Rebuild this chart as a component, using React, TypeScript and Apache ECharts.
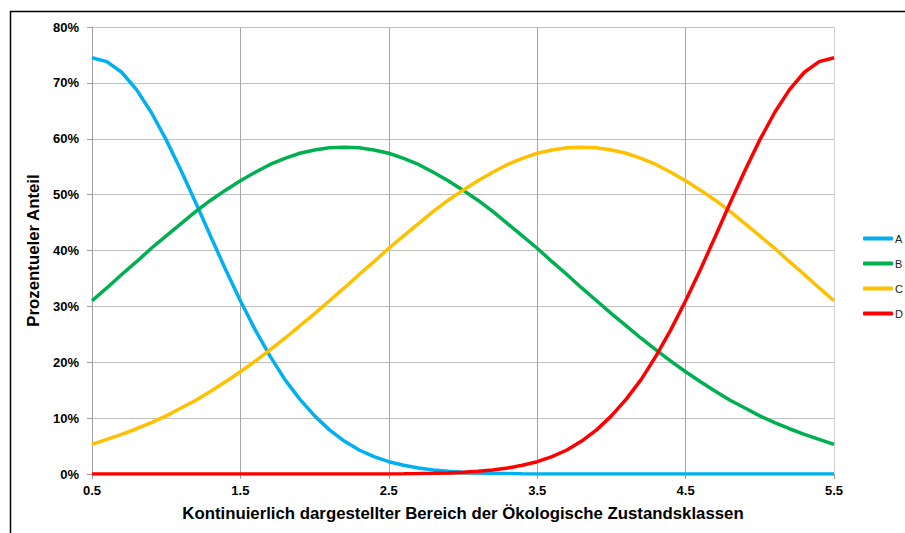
import React, { useEffect, useRef } from "react";
import * as echarts from "echarts";

const xCategories: string[] = [
  "0.5","0.6","0.7","0.8","0.9","1.0","1.1","1.2","1.3","1.4",
  "1.5","1.6","1.7","1.8","1.9","2.0","2.1","2.2","2.3","2.4",
  "2.5","2.6","2.7","2.8","2.9","3.0","3.1","3.2","3.3","3.4",
  "3.5","3.6","3.7","3.8","3.9","4.0","4.1","4.2","4.3","4.4",
  "4.5","4.6","4.7","4.8","4.9","5.0","5.1","5.2","5.3","5.4","5.5",
];

const seriesA: number[] = [
  74.5, 73.8, 71.9, 68.8, 64.7, 59.8, 54.3, 48.5, 42.5, 36.6,
  31.0, 25.8, 21.1, 16.9, 13.4, 10.4, 7.9, 5.9, 4.3, 3.1,
  2.2, 1.56, 1.07, 0.72, 0.48, 0.31, 0.2, 0.12, 0.07, 0.04,
  0.02, 0.01, 0, 0, 0, 0, 0, 0, 0, 0,
  0, 0, 0, 0, 0, 0, 0, 0, 0, 0, 0,
];

const seriesB: number[] = [
  31.0, 33.3, 35.7, 38.0, 40.4, 42.6, 44.8, 47.0, 49.0, 50.8,
  52.5, 54.0, 55.4, 56.5, 57.4, 58.0, 58.4, 58.5, 58.4, 58.0,
  57.4, 56.5, 55.4, 54.0, 52.5, 50.8, 49.0, 47.0, 44.8, 42.6,
  40.4, 38.0, 35.7, 33.3, 31.0, 28.7, 26.5, 24.3, 22.2, 20.2,
  18.3, 16.5, 14.8, 13.2, 11.8, 10.4, 9.2, 8.1, 7.1, 6.2, 5.3,
];

const seriesC: number[] = [
  5.3, 6.2, 7.1, 8.1, 9.2, 10.4, 11.8, 13.2, 14.8, 16.5,
  18.3, 20.2, 22.2, 24.3, 26.5, 28.7, 31.0, 33.3, 35.7, 38.0,
  40.4, 42.6, 44.8, 47.0, 49.0, 50.8, 52.5, 54.0, 55.4, 56.5,
  57.4, 58.0, 58.4, 58.5, 58.4, 58.0, 57.4, 56.5, 55.4, 54.0,
  52.5, 50.8, 49.0, 47.0, 44.8, 42.6, 40.4, 38.0, 35.7, 33.3, 31.0,
];

const seriesD: number[] = [
  0, 0, 0, 0, 0, 0, 0, 0, 0, 0,
  0, 0, 0, 0, 0, 0, 0, 0, 0, 0.01,
  0.02, 0.04, 0.07, 0.12, 0.2, 0.31, 0.48, 0.72, 1.07, 1.56,
  2.2, 3.1, 4.3, 5.9, 7.9, 10.4, 13.4, 16.9, 21.1, 25.8,
  31.0, 36.6, 42.5, 48.5, 54.3, 59.8, 64.7, 68.8, 71.9, 73.8, 74.5,
];

const seriesNames: string[] = ["A", "B", "C", "D"];
const seriesColors: string[] = ["#00B0F0", "#00B050", "#FFC000", "#FF0000"];
const yTickMax = 80;
const yTickStep = 10;

const FONT = "'Liberation Sans', Arial, sans-serif";

export default function App() {
  const ref = useRef<HTMLDivElement>(null);

  useEffect(() => {
    if (!ref.current) return;
    const chart = echarts.init(ref.current, null, { renderer: "svg" });
    const allData = [seriesA, seriesB, seriesC, seriesD];
    const every10 = (idx: number) => idx % 10 === 0;
    const innerSplit = (idx: number) => idx % 10 === 0 && idx !== 0 && idx !== 50;

    chart.setOption({
      animation: false,
      backgroundColor: "#ffffff",
      grid: { left: 92, right: 71, top: 27, bottom: 59 },
      legend: {
        orient: "vertical",
        left: 863,
        top: 233,
        padding: 0,
        itemWidth: 30,
        itemHeight: 4,
        itemGap: 14,
        icon: "roundRect",
        textStyle: { fontFamily: FONT, fontSize: 11, color: "#222", padding: [0, 0, 0, -3] },
        data: seriesNames,
      },
      xAxis: {
        type: "category",
        data: xCategories,
        boundaryGap: false,
        name: "Kontinuierlich dargestellter Bereich der Ökologische Zustandsklassen",
        nameLocation: "middle",
        nameGap: 31,
        nameTextStyle: { fontFamily: FONT, fontSize: 16.8, fontWeight: "bold", color: "#000" },
        axisLine: { show: true, lineStyle: { color: "#a0a0a0", width: 1 } },
        axisTick: { show: true, interval: (i: number) => every10(i), length: 5, lineStyle: { color: "#a0a0a0" } },
        axisLabel: {
          interval: (i: number) => every10(i),
          fontFamily: FONT,
          fontSize: 13,
          fontWeight: "bold",
          color: "#000",
          margin: 10,
        },
        splitLine: { show: true, interval: (i: number) => innerSplit(i), lineStyle: { color: "#a6a6a6", width: 1 } },
      },
      yAxis: {
        type: "value",
        min: 0,
        max: yTickMax,
        interval: yTickStep,
        name: "Prozentueler Anteil",
        nameLocation: "middle",
        nameGap: 48,
        nameTextStyle: { fontFamily: FONT, fontSize: 16.8, fontWeight: "bold", color: "#000" },
        axisLine: { show: true, lineStyle: { color: "#a0a0a0", width: 1 } },
        axisTick: { show: true, length: 5, lineStyle: { color: "#a0a0a0" } },
        axisLabel: {
          formatter: "{value}%",
          fontFamily: FONT,
          fontSize: 13,
          fontWeight: "bold",
          color: "#000",
          margin: 13,
        },
        splitLine: { show: true, lineStyle: { color: "#c0c0c0", width: 1 } },
      },
      graphic: [
        {
          type: "rect",
          shape: { x: 10.5, y: 11.5, width: 1000, height: 1000 },
          style: { fill: "none", stroke: "#000", lineWidth: 1.5 },
          silent: true,
        },
        {
          type: "line",
          shape: { x1: 834.5, y1: 27, x2: 834.5, y2: 474 },
          style: { stroke: "#d0d0d0", lineWidth: 1 },
          silent: true,
          z: 1,
        },
      ],
      series: seriesNames.map((n, k) => ({
        name: n,
        type: "line",
        data: allData[k],
        showSymbol: false,
        symbol: "none",
        lineStyle: { width: 3.5, color: seriesColors[k] },
        itemStyle: { color: seriesColors[k] },
        smooth: false,
      })),
    });
    return () => chart.dispose();
  }, []);

  return (
    <div
      ref={ref}
      style={{ position: "absolute", left: 0, top: 0, width: 905, height: 533 }}
    />
  );
}
